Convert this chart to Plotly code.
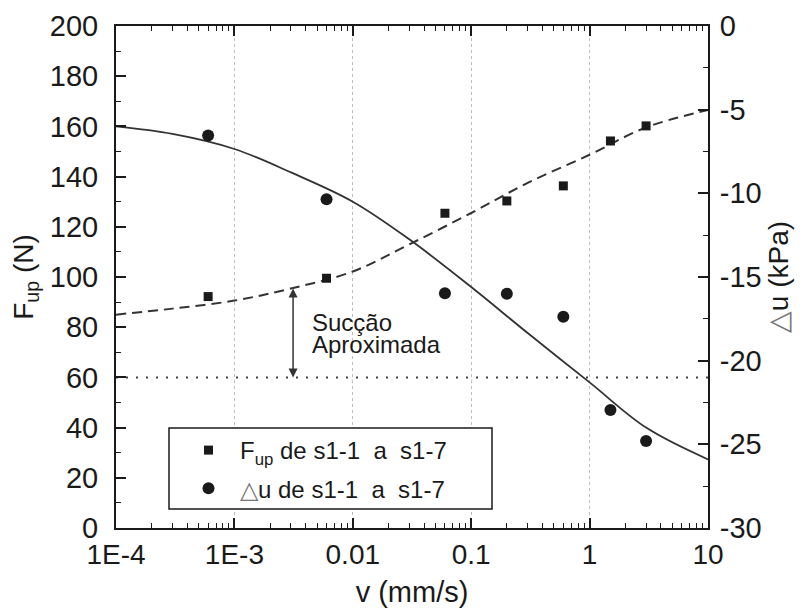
import numpy as np
import plotly.graph_objects as go

# ---------------- data ----------------
v_points = [0.0006, 0.006, 0.06, 0.2, 0.6, 1.5, 3.0]          # mm/s
fup_points = [92.2, 99.5, 125.4, 130.3, 136.3, 154.2, 160.2]   # N
du_points = [-6.55, -10.36, -15.97, -16.0, -17.37, -22.95, -24.8]  # kPa

# fitted curves
v_curve = [1e-4, 3e-4, 1e-3, 3e-3, 0.01, 0.03, 0.1, 0.3, 1.0, 3.0, 10.0]
fup_curve = [85.0, 87.4, 90.6, 95.4, 102.2, 113.0, 125.5, 137.5, 148.7, 159.6, 166.5]   # N (dashed)
du_curve = [-6.0, -6.45, -7.35, -8.75, -10.5, -12.75, -15.6, -18.35, -21.3, -24.0, -25.9]  # kPa (solid)

suction_level = 60          # N, dotted horizontal line
suction_v = 0.00313         # mm/s, position of double arrow
suction_top = 96.0          # N, top of the arrow (on the dashed curve)

x_tickvals = [1e-4, 1e-3, 0.01, 0.1, 1, 10]
x_ticktext = ["1E-4", "1E-3", "0.01", "0.1", "1", "10"]
y2_tickvals = [0, -5, -10, -15, -20, -25, -30]
y2_ticktext = ["0", "-5", "-10", "-15", "-20", "-25", "-30"]

# ---------------- figure ----------------
FONT = "Liberation Sans, Arial, Helvetica, sans-serif"
INK = "#1a1a1a"
NB = "\u00a0"

fig = go.Figure()

# dotted suction level line
fig.add_trace(go.Scatter(
    x=[v_curve[0], v_curve[-1]], y=[suction_level, suction_level],
    mode="lines", line=dict(color="#444", width=2, dash="2px,8px"),
    showlegend=False, hoverinfo="skip", yaxis="y"))

# dashed Fup fit
fig.add_trace(go.Scatter(
    x=v_curve, y=fup_curve, mode="lines", line_shape="spline",
    line=dict(color="#333", width=2, dash="10px,6px", smoothing=1.0),
    showlegend=False, yaxis="y"))

# solid du fit
fig.add_trace(go.Scatter(
    x=v_curve, y=du_curve, mode="lines", line_shape="spline",
    line=dict(color="#333", width=1.8, smoothing=1.0),
    showlegend=False, yaxis="y2"))

# Fup points
fig.add_trace(go.Scatter(
    x=v_points, y=fup_points, mode="markers",
    marker=dict(symbol="square", size=9, color=INK),
    name=f"F<sub>up</sub> de s1-1{NB} a{NB} s1-7", legendgroup="a", yaxis="y"))

# du points
fig.add_trace(go.Scatter(
    x=v_points, y=du_points, mode="markers",
    marker=dict(symbol="circle", size=12, color=INK),
    name=f"<span style='color:#777'>△</span>u de s1-1{NB} a{NB} s1-7", legendgroup="b", yaxis="y2"))

minor_vals = [m * 10.0 ** e for e in range(-4, 1) for m in range(2, 10)]

fig.update_layout(
    width=796, height=600,
    margin=dict(l=108, r=96, t=18, b=80),
    paper_bgcolor="white", plot_bgcolor="white",
    font=dict(family=FONT, size=29, color=INK),
    xaxis=dict(
        type="log", range=[-4, 1], automargin=False,
        tickmode="array", tickvals=x_tickvals, ticktext=x_ticktext,
        ticks="inside", ticklen=10, tickwidth=1.5, tickcolor=INK,
        showline=True, linewidth=2, linecolor=INK, mirror="ticks",
        showgrid=True, gridcolor="#bdbdbd", gridwidth=1, griddash="dot",
        zeroline=False,
        minor=dict(tickmode="array", tickvals=minor_vals, ticks="inside",
                   ticklen=5, tickwidth=1.2, tickcolor=INK, showgrid=False),
        tickfont=dict(size=28), ticklabelstandoff=0,
        title=dict(text="v (mm/s)", font=dict(size=29), standoff=14),
    ),
    yaxis=dict(
        range=[0, 200], dtick=20, automargin=False,
        ticks="inside", ticklen=10, tickwidth=1.5, tickcolor=INK,
        showline=True, linewidth=2, linecolor=INK, mirror=False,
        showgrid=False, zeroline=False,
        minor=dict(dtick=10, ticks="inside", ticklen=5, tickwidth=1.2,
                   tickcolor=INK, showgrid=False),
        tickfont=dict(size=29), ticklabelstandoff=10,
        title=dict(text="F<sub>up</sub> (N)", font=dict(size=28), standoff=12),
    ),
    yaxis2=dict(
        overlaying="y", side="right", range=[-30, 0], automargin=False,
        tickmode="array", tickvals=y2_tickvals, ticktext=y2_ticktext,
        ticks="inside", ticklen=10, tickwidth=1.5, tickcolor=INK,
        showline=True, linewidth=2, linecolor=INK,
        showgrid=False, zeroline=False,
        minor=dict(dtick=2.5, ticks="inside", ticklen=5, tickwidth=1.2,
                   tickcolor=INK, showgrid=False),
        tickfont=dict(size=29), ticklabelstandoff=4,
        title=dict(text="<span style='color:#777'>△</span>u (kPa)", font=dict(size=28), standoff=8),
    ),
    legend=dict(
        x=(177 - 116) / 592, y=(528 - 428) / 502, xanchor="left", yanchor="top",
        bgcolor="rgba(255,255,255,0)", borderwidth=0,
        font=dict(size=24, color=INK), tracegroupgap=4,
        itemwidth=53,
    ),
    showlegend=True,
)

# legend frame
fig.add_shape(type="rect", xref="x domain", yref="y domain",
              x0=(169 - 116) / 592, x1=(492 - 116) / 592,
              y0=(528 - 509) / 502, y1=(528 - 428) / 502,
              line=dict(color=INK, width=1.5), fillcolor="white", layer="above")

# double arrow
fig.add_annotation(
    x=np.log10(suction_v), y=suction_level, ax=np.log10(suction_v), ay=suction_top,
    xref="x", yref="y", axref="x", ayref="y",
    text="", showarrow=True, arrowhead=2, arrowside="end+start",
    arrowsize=1.2, arrowwidth=1.5, arrowcolor="#333")

# annotation text
fig.add_annotation(x=np.log10(suction_v) + 0.145, y=82.0, xref="x", yref="y",
                   text="Sucção", showarrow=False, xanchor="left", yanchor="middle",
                   font=dict(size=24, color=INK))
fig.add_annotation(x=np.log10(suction_v) + 0.145, y=73.2, xref="x", yref="y",
                   text="Aproximada", showarrow=False, xanchor="left", yanchor="middle",
                   font=dict(size=24, color=INK))

fig.write_html("out.html")
